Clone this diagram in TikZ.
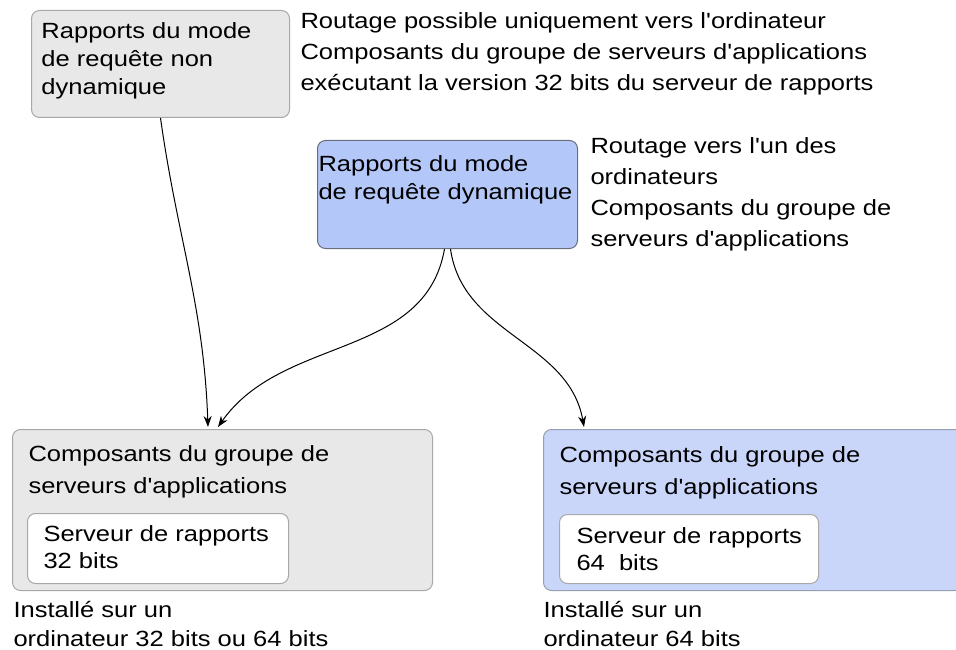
\documentclass[tikz,border=0pt]{standalone}
\usepackage{fontspec}
\setmainfont{Liberation Sans}[FakeStretch=1.16, Ligatures=TeXOff]
\usetikzlibrary{arrows.meta,positioning}

\definecolor{boxgray}{RGB}{232,232,232}
\definecolor{grayline}{RGB}{168,168,168}
\definecolor{dynblue}{RGB}{180,199,249}
\definecolor{dynline}{RGB}{105,110,125}
\definecolor{srvblue}{RGB}{201,214,250}
\definecolor{srvline}{RGB}{150,158,178}

\begin{document}
\begin{tikzpicture}[
	x = 1pt, y = -1pt, % one unit per pixel, origin at top left
	> = {Stealth[length=11pt, width=8pt]}, % arrow head style
	line width = 1pt,
	box/.style={rectangle, rounded corners=8pt, anchor=north west, inner sep=0pt},
	grbox/.style={box, draw=grayline, fill=boxgray},
	dynbox/.style={box, draw=dynline, fill=dynblue},
	srvbox/.style={box, draw=srvline, fill=srvblue},
	whbox/.style={box, draw=grayline, fill=white},
	txt/.style={anchor=north west, inner sep=0pt, align=left, font=\fontsize{22pt}{#1}\selectfont},
	txt/.default=29pt,
	]

	\useasboundingbox (0,0) rectangle (956,650);
	\clip (0,0) rectangle (956,650);

	% Request modes
	\node[grbox, minimum width=258pt, minimum height=107pt] (A) at (31,10) {};
	\node[txt=28pt, below right=12pt and 10pt of A.north west] (At)
		{Rapports du mode\\de requête non\\dynamique};
	\node[txt=31pt] (An) at (300,12)
		{Routage possible uniquement vers l'ordinateur\\Composants du groupe de serveurs d'applications\\exécutant la version 32 bits du serveur de rapports};

	\node[dynbox, minimum width=260pt, minimum height=108pt] (B) at (317,140) {};
	\node[txt=28pt, below right=15pt and 1pt of B.north west] (Bt)
		{Rapports du mode\\de requête dynamique};
	\node[txt=31pt] (Bn) at (590,137)
		{Routage vers l'un des\\ordinateurs\\Composants du groupe de\\serveurs d'applications};

	% Application server groups
	\node[grbox, minimum width=420pt, minimum height=161pt] (C) at (12,429) {};
	\node[txt=32pt, below right=16pt and 16pt of C.north west] (Ct)
		{Composants du groupe de\\serveurs d'applications};
	\node[whbox, minimum width=261pt, minimum height=70pt] (Cs) at (27,513) {};
	\node[txt=27pt, below right=12pt and 16pt of Cs.north west] (Cst)
		{Serveur de rapports\\32 bits};
	\node[txt=29pt] (Cl) at (13,601)
		{Installé sur un\\ordinateur 32 bits ou 64 bits};

	\node[srvbox, minimum width=430pt, minimum height=161pt] (D) at (543,429) {};
	\node[txt=32pt, below right=17pt and 16pt of D.north west] (Dt)
		{Composants du groupe de\\serveurs d'applications};
	\node[whbox, minimum width=259pt, minimum height=69pt] (Ds) at (559,514) {};
	\node[txt=27pt, below right=13pt and 17pt of Ds.north west] (Dst)
		{Serveur de rapports\\64\ \ bits};
	\node[txt=29pt] (Dl) at (543,601)
		{Installé sur un\\ordinateur 64 bits};

	% Routing arrows
	\coordinate (tA) at (208,427);
	\coordinate (tB) at (218,427);
	\coordinate (tD) at (584,427);
	\draw[->] (A.south) to[out=-82, in=92] (tA);
	\draw[->] ([xshift=-3pt]B.south) to[out=-100, in=55] (tB);
	\draw[->] ([xshift=3pt]B.south) to[out=-82, in=100] (tD);

\end{tikzpicture}
\end{document}
